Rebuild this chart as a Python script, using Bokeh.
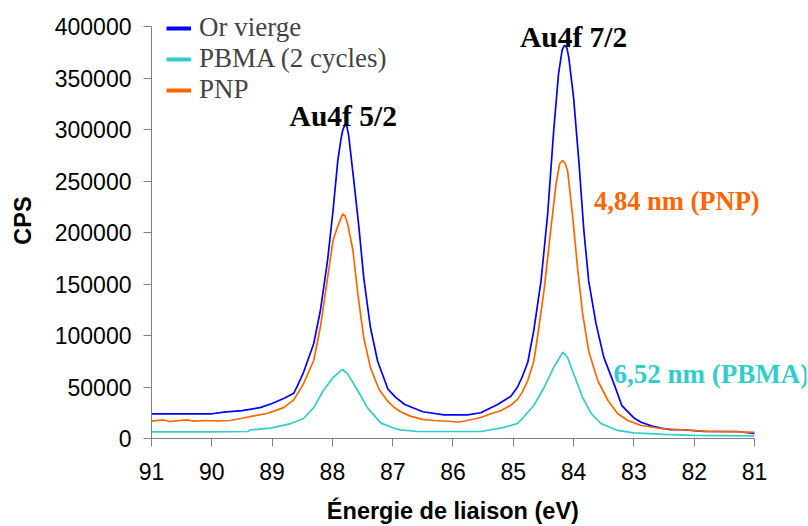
from bokeh.plotting import figure
from bokeh.models import Range1d, Legend, LegendItem, Label, FixedTicker, NumeralTickFormatter
from bokeh.embed import file_html
from bokeh.resources import INLINE

# ---- data (binding energy in eV, counts per second) ----
be_or = [91.0, 90.5, 90.0, 89.8, 89.5, 89.2, 89.0, 88.8, 88.64, 88.58, 88.48, 88.31, 88.2, 88.08,
         87.99, 87.91, 87.86, 87.83, 87.79, 87.76, 87.73, 87.65, 87.56, 87.48, 87.37, 87.25, 87.08, 86.95, 86.8,
         86.5, 86.15, 85.76, 85.54, 85.26, 85.04, 84.93, 84.85, 84.76, 84.66, 84.54, 84.43, 84.33, 84.25,
         84.19, 84.16, 84.14, 84.11, 84.08, 84.0, 83.91, 83.83, 83.75, 83.63, 83.5, 83.33, 83.2, 83.0, 82.88, 82.7,
         82.55, 82.39, 82.2, 81.84, 81.5, 81.27, 81.05, 81.0]
cps_or = [24000, 24000, 24000, 25600, 27000, 30000, 34000, 39000, 44000, 51000, 64000, 92000, 124000, 173000,
          221000, 270000, 290000, 299000, 305000, 303000, 294000, 253000, 205000, 156000, 108000, 75000, 48000, 40000, 33000,
          26000, 23000, 23000, 25000, 33000, 41000, 50000, 60000, 74000, 105000, 153000, 218000, 299000, 354000,
          377000, 381000, 381600, 379000, 370000, 331000, 267000, 202000, 153000, 112000, 79000, 53000, 32000, 20000, 15800, 12000,
          10000, 8700, 8500, 7000, 6800, 6800, 5100, 5000]

be_pbma = [91.0, 90.0, 89.4, 89.36, 89.02, 88.69, 88.48, 88.31, 88.15, 87.99, 87.86, 87.83, 87.75, 87.58,
           87.42, 87.2, 86.98, 86.87, 86.59, 85.54, 85.21, 84.93, 84.88, 84.66, 84.49, 84.33, 84.21, 84.18,
           84.1, 84.0, 83.85, 83.71, 83.55, 83.27, 83.0, 82.5, 82.0, 81.0]
cps_pbma = [6500, 6500, 6800, 8400, 10000, 14500, 19400, 30000, 46600, 59000, 66000, 67000, 63000, 46600,
            30000, 15200, 10000, 8400, 6800, 6800, 10000, 14600, 17500, 32000, 49500, 69000, 80600, 83800,
            78600, 63000, 39800, 24300, 14600, 7800, 5500, 4000, 3000, 2500]

be_pnp = [91.0, 90.8, 90.7, 90.4, 90.3, 90.1, 89.9, 89.7, 89.52, 89.3, 89.07, 88.9, 88.81, 88.64, 88.48,
          88.31, 88.2, 88.08, 87.99, 87.93, 87.87, 87.83, 87.79, 87.75, 87.66, 87.58, 87.48, 87.37, 87.23, 87.08, 86.98,
          86.87, 86.7, 86.5, 86.32, 86.0, 85.92, 85.8, 85.54, 85.35, 85.21, 85.05, 84.93, 84.85, 84.76,
          84.66, 84.6, 84.49, 84.38, 84.29, 84.23, 84.18, 84.14, 84.1, 84.02, 83.93, 83.85, 83.75, 83.6, 83.43,
          83.27, 83.1, 82.88, 82.55, 82.2, 81.77, 81.3, 81.0]
cps_pnp = [16800, 18000, 16500, 18000, 16800, 17500, 17000, 17500, 19400, 22000, 24500, 28000, 30000, 37500, 53000,
           75700, 108000, 156000, 192000, 203000, 212000, 218000, 216000, 209000, 183000, 141000, 98000, 69000, 48000, 36000, 30400,
           26000, 21500, 18500, 17500, 16500, 15800, 17000, 20400, 24500, 27000, 32000, 38000, 45000, 56300,
           75000, 98000, 144000, 202000, 247500, 267000, 270000, 267000, 260000, 218000, 163000, 121000, 85000, 56300, 36900,
           24300, 17500, 12600, 9700, 8500, 7000, 6500, 6000]

series_labels = ["Or vierge", "PBMA (2 cycles)", "PNP"]
x_ticks = [91, 90, 89, 88, 87, 86, 85, 84, 83, 82, 81]
y_ticks = [0, 50000, 100000, 150000, 200000, 250000, 300000, 350000, 400000]

C_BLUE = "#0000FF"
C_CYAN = "#33CCCC"
C_ORANGE = "#FF6600"

# frame is widened beyond the axis bounds so that annotations are not clipped
p = figure(width=808, height=526, output_backend="svg", toolbar_location=None,
           x_range=Range1d(91, 80.1376), y_range=Range1d(0, 423301),
           min_border_left=151, min_border_right=2, min_border_top=2, min_border_bottom=88)
p.grid.visible = False
p.outline_line_color = None

r_or = p.line(be_or, cps_or, line_color=C_BLUE, line_width=1.7)
r_pbma = p.line(be_pbma, cps_pbma, line_color=C_CYAN, line_width=1.7)
r_pnp = p.line(be_pnp, cps_pnp, line_color=C_ORANGE, line_width=1.7)

# legend proxies with thicker strokes
nan = float("nan")
g_or = p.line([nan], [nan], line_color=C_BLUE, line_width=4)
g_pbma = p.line([nan], [nan], line_color=C_CYAN, line_width=4)
g_pnp = p.line([nan], [nan], line_color=C_ORANGE, line_width=4)

legend = Legend(items=[LegendItem(label=series_labels[0], renderers=[g_or]),
                       LegendItem(label=series_labels[1], renderers=[g_pbma]),
                       LegendItem(label=series_labels[2], renderers=[g_pnp])],
                location=(15, 333), padding=0, margin=0, spacing=0,
                glyph_width=25, glyph_height=28, label_height=28, label_standoff=8,
                label_text_font="Liberation Serif", label_text_font_size="27px",
                background_fill_alpha=0, border_line_color=None)
p.add_layout(legend)

for ax in (p.xaxis, p.yaxis):
    ax.axis_line_color = "#808080"
    ax.major_tick_line_color = "#808080"
    ax.minor_tick_line_color = None
    ax.major_tick_in = 0
    ax.major_tick_out = 8
    ax.major_label_text_font = "Liberation Sans"
    ax.major_label_text_font_size = "23px"
    ax.major_label_text_color = "black"
    ax.axis_label_text_font = "Liberation Sans"
    ax.axis_label_text_font_style = "bold"
    ax.axis_label_text_font_size = "23.5px"
    ax.axis_label_text_color = "black"

p.xaxis.bounds = (81, 91)
p.yaxis.bounds = (0, 400000)
p.xaxis.ticker = FixedTicker(ticks=x_ticks)
p.yaxis.ticker = FixedTicker(ticks=y_ticks)
p.yaxis.formatter = NumeralTickFormatter(format="0")
p.yaxis.axis_label = "CPS"
# trailing no-break spaces keep the title centred under the axis bounds rather than the widened frame
p.xaxis.axis_label = "Énergie de liaison (eV)" + "\u00a0" * 8
p.xaxis.major_label_standoff = 16
p.yaxis.major_label_standoff = 12
p.xaxis.axis_label_standoff = 15
p.yaxis.axis_label_standoff = 16

ann = [
    ("Au4f 5/2", 87.82, 313000, "center", "black", "29.5px"),
    ("Au4f 7/2", 84.0, 389500, "center", "black", "29.5px"),
    ("4,84 nm (PNP)", 83.66, 231000, "left", C_ORANGE, "26.5px"),
    ("6,52 nm (PBMA)", 83.34, 63000, "left", C_CYAN, "27px"),
]
for t, x, y, al, col, fs in ann:
    p.add_layout(Label(x=x, y=y, text=t, text_align=al, text_baseline="alphabetic",
                       text_color=col, text_font="Liberation Serif", text_font_style="bold",
                       text_font_size=fs))

open("out.html", "w").write(file_html(p, INLINE))
